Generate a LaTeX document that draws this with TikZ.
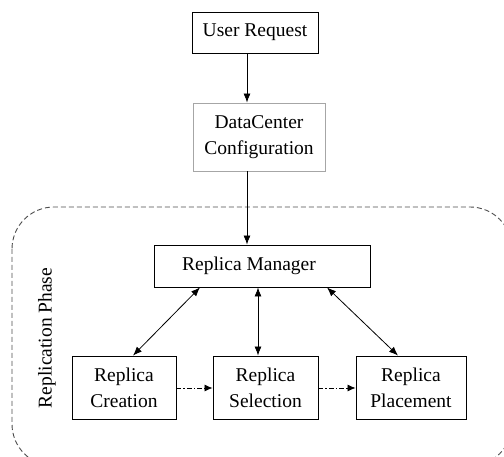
\documentclass[tikz,border=0pt]{standalone}
\usepackage{fontspec}
\setmainfont{Liberation Serif}
\usetikzlibrary{arrows.meta}
\begin{document}
\begin{tikzpicture}[x=1pt,y=-1pt,
  box/.style={draw, line width=0.9pt, inner sep=0pt, align=center, font=\fontsize{19.5}{26}\selectfont},
  arr/.style={line width=0.8pt, -{Latex[length=9pt,width=7pt]}},
  darr/.style={line width=0.8pt, {Latex[length=9pt,width=7pt]}-{Latex[length=9pt,width=7pt]}},
  dd/.style={line width=0.8pt, dash pattern=on 5pt off 2pt on 1.5pt off 2pt, -{Latex[length=8pt,width=7pt]}}]
\useasboundingbox (0,0) rectangle (504,457);
\begin{scope}
\clip (0,0) rectangle (504,457);
\draw[gray!60!black, line width=0.9pt, dash pattern=on 5pt off 3pt, rounded corners=42pt] (12,207) rectangle (512,466);
\end{scope}
\node[box, minimum width=126pt, minimum height=41pt] (ur) at (255,32.5) {User Request};
\node[box, draw=gray!70, minimum width=132pt, minimum height=68pt] (dc) at (259,137) {DataCenter\\Configuration};
\node[box, minimum width=216pt, minimum height=42pt] (rm) at (262,266) {Replica Manager\hspace{26pt}};
\node[box, minimum width=104pt, minimum height=63pt] (cr) at (124,387.5) {Replica\\Creation};
\node[box, minimum width=105pt, minimum height=63pt] (se) at (265.5,387.5) {Replica\\Selection};
\node[box, minimum width=110pt, minimum height=63pt] (pl) at (411,387.5) {Replica\\Placement};
\node[rotate=90, font=\fontsize{19.5}{22}\selectfont] (ph) at (47,338) {Replication Phase};
\draw[arr] ([xshift=-8pt]ur.south) -- ([xshift=-12pt]dc.north);
\draw[arr] ([xshift=-12pt]dc.south) -- ([xshift=-15pt]rm.north);
\draw[darr] ([xshift=9pt]cr.north) -- ([xshift=-62pt]rm.south);
\draw[darr] ([xshift=-7.5pt]se.north) -- ([xshift=-4pt]rm.south);
\draw[darr] ([xshift=-13pt]pl.north) -- ([xshift=65pt]rm.south);
\draw[dd] ([yshift=-0.5pt]cr.east) -- ([yshift=-0.5pt]se.west);
\draw[dd] ([yshift=-0.5pt]se.east) -- ([yshift=-0.5pt]pl.west);
\end{tikzpicture}
\end{document}
